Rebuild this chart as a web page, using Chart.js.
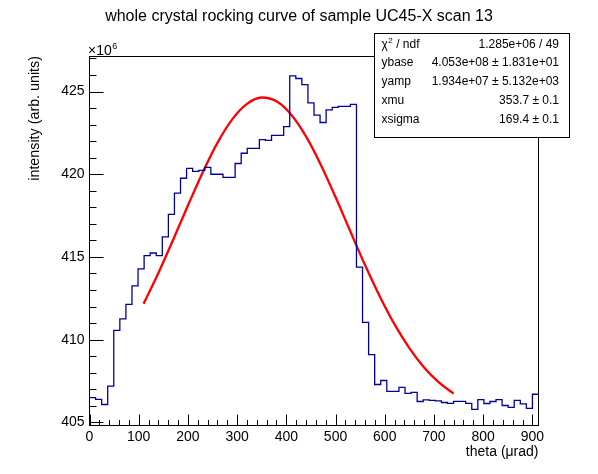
<!DOCTYPE html>
<html>
<head>
<meta charset="utf-8">
<script src="https://cdn.jsdelivr.net/npm/chart.js@4/dist/chart.umd.min.js"></script>
<style>
  html, body { margin: 0; padding: 0; background: #fff; }
  #chart { display: block; }
</style>
</head>
<body>
<canvas id="chart" width="598" height="474"></canvas>
<script>
// histogram: 74 equal bins between 0 and 912.5 urad, values in units of 1e6
const binCount = 74;
const xLow = 0;
const xHigh = 912.5;
const counts = [
    406.50, 406.39, 406.08, 407.19, 410.56, 411.26, 412.13, 413.25, 414.28, 415.08,
    415.24, 415.08, 416.22, 417.57, 418.86, 419.76, 420.36, 420.18, 420.24, 420.42,
    420.00, 420.00, 419.81, 419.81, 420.65, 421.27, 421.57, 421.57, 422.09, 422.05,
    422.35, 422.35, 422.88, 425.95, 425.79, 425.42, 424.32, 423.57, 423.13, 423.89,
    424.04, 424.11, 424.11, 424.22, 414.39, 411.04, 409.10, 407.29, 407.53, 406.87,
    406.87, 407.11, 406.75, 406.81, 406.26, 406.36, 406.33, 406.30, 406.20, 406.15,
    406.27, 406.27, 406.15, 405.78, 406.38, 406.14, 406.26, 406.38, 406.02, 405.90,
    406.33, 406.12, 405.84, 406.70
];

// fitted curve
const fitX = [110, 140, 170, 200, 230, 260, 290, 320, 350, 380, 410,
              440, 470, 500, 530, 560, 590, 620, 650, 680, 710, 740];
const fitY = [412.17, 414.03, 416.04, 418.11, 420.11, 421.90, 423.32, 424.26, 424.64, 424.41, 423.60,
              422.29, 420.58, 418.62, 416.55, 414.51, 412.61, 410.92, 409.49, 408.32, 407.42, 406.74];

const xTicks = [0, 100, 200, 300, 400, 500, 600, 700, 800, 900];
const yTicks = [405, 410, 415, 420, 425];
const yMin = 404.84;
const yMax = 427.15;

const titleText = 'whole crystal rocking curve of sample UC45-X scan 13';
const statRows = [
    ['chi2', '1.285e+06 / 49'],
    ['ybase', '4.053e+08 \u00b1 1.831e+01'],
    ['yamp', '1.934e+07 \u00b1 5.132e+03'],
    ['xmu', '353.7 \u00b1 0.1'],
    ['xsigma', '169.4 \u00b1 0.1']
];

const FONT = '"Liberation Sans", Arial, Helvetica, sans-serif';

const binWidth = (xHigh - xLow) / binCount;
const histPoints = counts.map((v, i) => ({ x: xLow + i * binWidth, y: v }));
histPoints.push({ x: xHigh, y: counts[counts.length - 1] });
const fitPoints = fitX.map((x, i) => ({ x: x, y: fitY[i] }));

// ROOT style frame with ticks inside, stats box, title and exponent label
const rootFrame = {
    id: 'rootFrame',
    afterDatasetsDraw(chart) {
        const ctx = chart.ctx;
        const a = chart.chartArea;
        const xs = chart.scales.x, ys = chart.scales.y;
        const top = Math.round(a.top) + 0.5, bottom = Math.round(a.bottom) + 0.5;
        const left = Math.round(a.left - 0.5) + 0.5, right = Math.round(a.right - 0.5) + 0.5;
        ctx.save();
        ctx.strokeStyle = '#000';
        ctx.lineWidth = 1;
        ctx.beginPath();
        for (let v = 0; v <= xHigh; v += 20) {
            const px = Math.round(xs.getPixelForValue(v)) + 0.5;
            const len = v % 100 === 0 ? 11 : 5.5;
            ctx.moveTo(px, bottom);
            ctx.lineTo(px, bottom - len);
        }
        for (let v = 405; v <= yMax; v += 1) {
            const py = Math.round(ys.getPixelForValue(v)) + 0.5;
            const len = v % 5 === 0 ? 14 : 7;
            ctx.moveTo(left, py);
            ctx.lineTo(left + len, py);
        }
        ctx.stroke();
        ctx.strokeRect(left, top, right - left, bottom - top);
        ctx.restore();
    },
    afterDraw(chart) {
        const ctx = chart.ctx;
        const a = chart.chartArea;
        ctx.save();
        ctx.fillStyle = '#000';

        // title, centred on the whole canvas
        ctx.font = '16px ' + FONT;
        ctx.textAlign = 'center';
        ctx.textBaseline = 'middle';
        ctx.fillText(titleText, chart.width / 2, 16.8);

        ctx.textBaseline = 'alphabetic';
        // x10^6 above the y axis
        ctx.font = '14px ' + FONT;
        ctx.textAlign = 'left';
        ctx.fillText('\u00d710', a.left - 1.5, a.top - 1.5);
        const w = ctx.measureText('\u00d710').width;
        ctx.font = '9px ' + FONT;
        ctx.fillText('6', a.left - 1 + w, a.top - 7.5);

        // stats box
        const bx = 374.5, by = 33.5, bw = 195, bh = 104;
        ctx.fillStyle = '#fff';
        ctx.fillRect(bx, by, bw, bh);
        ctx.strokeStyle = '#000';
        ctx.lineWidth = 1;
        ctx.strokeRect(bx, by, bw, bh);
        ctx.fillStyle = '#000';
        const rowH = 18.75;
        statRows.forEach((row, i) => {
            const y = by + 14 + i * rowH;
            ctx.font = '12px ' + FONT;
            ctx.textAlign = 'left';
            if (row[0] === 'chi2') {
                ctx.fillText('\u03c7', bx + 7, y);
                const cw = ctx.measureText('\u03c7').width;
                ctx.font = '8px ' + FONT;
                ctx.fillText('2', bx + 7 + cw + 0.5, y - 5);
                ctx.font = '12px ' + FONT;
                ctx.fillText(' / ndf', bx + 7 + cw + 5, y);
            } else {
                ctx.fillText(row[0], bx + 7, y);
            }
            ctx.textAlign = 'right';
            ctx.fillText(row[1], bx + bw - 10.5, y);
        });
        ctx.restore();
    }
};

new Chart(document.getElementById('chart'), {
    type: 'line',
    data: {
        datasets: [
            {
                label: 'scan 13',
                data: histPoints,
                borderColor: '#000099',
                borderWidth: 1.3,
                stepped: 'before',
                pointRadius: 0,
                fill: false
            },
            {
                label: 'fit',
                data: fitPoints,
                borderColor: '#ff0000',
                borderWidth: 2.3,
                cubicInterpolationMode: 'monotone',
                pointRadius: 0,
                fill: false
            }
        ]
    },
    options: {
        responsive: false,
        animation: false,
        events: [],
        layout: { padding: { top: 56, left: 0, right: 59.5, bottom: 0 } },
        plugins: {
            legend: { display: false },
            tooltip: { enabled: false },
            title: { display: false }
        },
        scales: {
            x: {
                type: 'linear',
                min: xLow,
                max: xHigh,
                grid: { display: false, drawTicks: false },
                border: { display: false },
                afterBuildTicks: s => { s.ticks = xTicks.map(v => ({ value: v })); },
                afterFit: s => { s.height = 49; },
                ticks: {
                    color: '#000',
                    font: { family: FONT, size: 14 },
                    padding: 3.6,
                    maxRotation: 0,
                    autoSkip: false
                },
                title: {
                    display: true,
                    text: 'theta (\u03bcrad)',
                    align: 'end',
                    color: '#000',
                    font: { family: FONT, size: 14 },
                    padding: { top: 0, bottom: 13.6 }
                }
            },
            y: {
                type: 'linear',
                min: yMin,
                max: yMax,
                grid: { display: false, drawTicks: false },
                border: { display: false },
                afterBuildTicks: s => { s.ticks = yTicks.map(v => ({ value: v })); },
                afterFit: s => { s.width = 89.5; },
                ticks: {
                    color: '#000',
                    font: { family: FONT, size: 14 },
                    padding: 5
                },
                title: {
                    display: true,
                    text: 'intensity (arb. units)',
                    align: 'end',
                    color: '#000',
                    font: { family: FONT, size: 14.3 },
                    padding: { top: 26.6, bottom: 0 }
                }
            }
        }
    },
    plugins: [rootFrame]
});
</script>
</body>
</html>
